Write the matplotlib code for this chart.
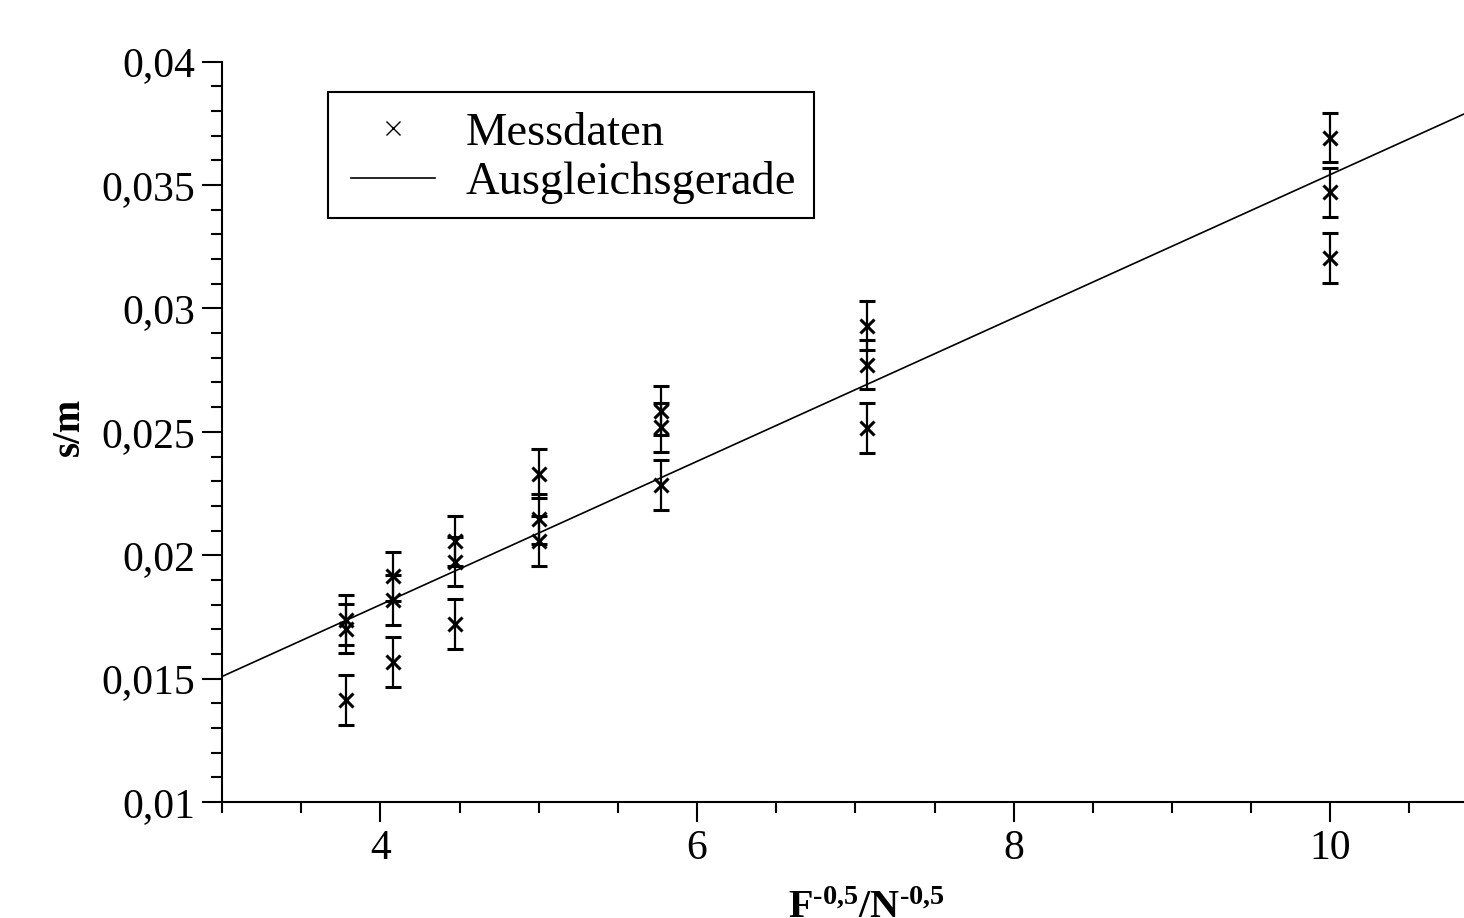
import matplotlib
matplotlib.use("Agg")
import matplotlib.pyplot as plt
from matplotlib.lines import Line2D
from matplotlib.patches import Rectangle
from matplotlib.ticker import FixedLocator, MultipleLocator

plt.rcParams['font.family'] = ['Liberation Serif', 'DejaVu Serif']
plt.rcParams['mathtext.fontset'] = 'custom'
plt.rcParams['mathtext.rm'] = 'Liberation Serif'
plt.rcParams['mathtext.bf'] = 'Liberation Serif:bold'
plt.rcParams['mathtext.it'] = 'Liberation Serif:italic'

# ---- data ----
x_vals = [3.780, 3.780, 3.780,
          4.082, 4.082, 4.082,
          4.472, 4.472, 4.472,
          5.000, 5.000, 5.000,
          5.774, 5.774, 5.774,
          7.071, 7.071, 7.071,
          10.000, 10.000, 10.000]
y_vals = [0.01737, 0.01703, 0.01413,
          0.01915, 0.01819, 0.01567,
          0.02058, 0.01974, 0.01722,
          0.02331, 0.02147, 0.02058,
          0.02586, 0.02518, 0.02284,
          0.02930, 0.02772, 0.02516,
          0.03692, 0.03470, 0.03204]
y_err = [0.001] * len(y_vals)

fit_slope = 0.002905
fit_intercept = 0.006375

y_ticks = [0.01, 0.015, 0.02, 0.025, 0.03, 0.035, 0.04]
y_tick_labels = ["0,01", "0,015", "0,02", "0,025", "0,03", "0,035", "0,04"]
x_ticks = [4, 6, 8, 10]
x_tick_labels = ["4", "6", "8", "10"]

legend_labels = ["Messdaten", "Ausgleichsgerade"]
x_label = "$\\mathbf{F^{\u20100{,}5}/N^{\u20100{,}5}}$"
y_label = "s/m"

# ---- figure ----
W, H = 1464, 918
fig = plt.figure(figsize=(W / 100, H / 100), dpi=100)
left = 222.2 / W
bottom = (H - 802) / H
top = (H - 61.7) / H
ax = fig.add_axes([left, bottom, 1 - left, top - bottom])

x_min, x_max = 3.0, 10.845
ax.set_xlim(x_min, x_max)
ax.set_ylim(0.01, 0.04)

# fit line
ax.plot([x_min, x_max], [fit_intercept + fit_slope * x_min, fit_intercept + fit_slope * x_max],
        color='black', lw=1.2, zorder=2)

# measured data with error bars
ax.errorbar(x_vals, y_vals, yerr=y_err, fmt='x', color='black', ms=10, mew=2.2,
            elinewidth=1.6, capsize=6, capthick=1.6, zorder=3)

# spines
for s in ['top', 'right']:
    ax.spines[s].set_visible(False)
for s in ['left', 'bottom']:
    ax.spines[s].set_linewidth(1.5)

# ticks
ax.yaxis.set_major_locator(FixedLocator(y_ticks))
ax.set_yticklabels(y_tick_labels)
ax.yaxis.set_minor_locator(MultipleLocator(0.001))
ax.xaxis.set_major_locator(FixedLocator(x_ticks))
ax.set_xticklabels(x_tick_labels)
ax.xaxis.set_minor_locator(MultipleLocator(0.5))
ax.tick_params(which='major', direction='out', length=14.5, width=1.5, labelsize=30)
ax.tick_params(which='minor', direction='out', length=8, width=1.5)
ax.tick_params(axis='y', which='major', pad=5)
ax.tick_params(axis='x', which='major', pad=5)

# axis labels
fig.text(69 / W, (H - 427) / H, y_label, rotation=90, ha='center', va='center',
         fontsize=28, fontweight='bold')
fig.text(866 / W, (H - 890) / H, x_label, ha='center', va='top', fontsize=29)

# legend (frame drawn as a separate box)
handles = [Line2D([], [], ls='none', marker='x', ms=10, mew=1.0, color='black'),
           Line2D([], [], color='black', lw=1.2)]
fs_leg = 33.5
fs_px = fs_leg * 100 / 72
leg = ax.legend(handles, legend_labels, loc='upper left',
                bbox_to_anchor=(351 / W, (H - 112) / H), bbox_transform=fig.transFigure,
                fontsize=fs_leg, frameon=False, borderpad=0,
                handlelength=84 / fs_px, handletextpad=31 / fs_px,
                labelspacing=0.14, borderaxespad=0)
fig.patches.append(Rectangle((328 / W, (H - 218) / H), (814 - 328) / W, (218 - 92) / H,
                             transform=fig.transFigure, fill=False, edgecolor='black',
                             linewidth=1.5, zorder=5))

fig.savefig("out.png", dpi=100)
